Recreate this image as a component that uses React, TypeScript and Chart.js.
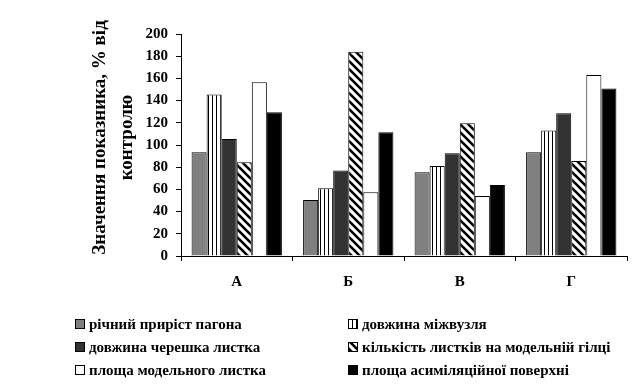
import React, { useEffect, useRef } from "react";
import { Chart, registerables } from "chart.js";

Chart.register(...registerables);

const categories = ["А", "Б", "В", "Г"];
const seriesNames = [
  "річний приріст пагона",
  "довжина міжвузля",
  "довжина черешка листка",
  "кількість листків на модельній гілці",
  "площа модельного листка",
  "площа асиміляційної поверхні",
];
const annualGrowth = [93.5, 50.5, 75.5, 93.5];
const internodeLength = [145.5, 61, 81, 113];
const petioleLength = [105.5, 77, 92.5, 128.5];
const leafCount = [84.5, 184, 119.5, 85.5];
const leafArea = [156.5, 57.5, 54, 163];
const assimilationArea = [129.5, 111.5, 64, 151];
const yTicks = [0, 20, 40, 60, 80, 100, 120, 140, 160, 180, 200];
const titleLines = ["Значення показника, % від", "контролю"];

const FONT = "'Liberation Serif', 'Times New Roman', serif";

function makeStripes(): CanvasPattern | string {
  const c = document.createElement("canvas");
  c.width = 4;
  c.height = 4;
  const g = c.getContext("2d")!;
  g.fillStyle = "#fff";
  g.fillRect(0, 0, 4, 4);
  g.fillStyle = "#000";
  g.fillRect(0, 0, 1, 4);
  return g.createPattern(c, "repeat") || "#fff";
}

function makeHatch(): CanvasPattern | string {
  const c = document.createElement("canvas");
  c.width = 8;
  c.height = 8;
  const g = c.getContext("2d")!;
  g.fillStyle = "#fff";
  g.fillRect(0, 0, 8, 8);
  g.strokeStyle = "#000";
  g.lineWidth = 2.6;
  for (const off of [-8, 0, 8]) {
    g.beginPath();
    g.moveTo(off - 2, -2);
    g.lineTo(off + 10, 10);
    g.stroke();
  }
  return g.createPattern(c, "repeat") || "#fff";
}

export default function App() {
  const ref = useRef<HTMLCanvasElement>(null);

  useEffect(() => {
    if (!ref.current) return;
    const stripes = makeStripes();
    const hatch = makeHatch();
    const fills = ["#808080", stripes, "#333333", hatch, "#ffffff", "#000000"];
    const values = [annualGrowth, internodeLength, petioleLength, leafCount, leafArea, assimilationArea];

    const extras = {
      id: "extras",
      afterDraw(chart: any) {
        const ctx = chart.ctx as CanvasRenderingContext2D;
        ctx.save();
        ctx.fillStyle = "#000";
        ctx.font = `bold 19px ${FONT}`;
        ctx.textAlign = "center";
        ctx.textBaseline = "middle";
        const cy = 137.5;
        const xs = [100, 127];
        titleLines.forEach((t, i) => {
          ctx.save();
          ctx.translate(xs[i], cy);
          ctx.rotate(-Math.PI / 2);
          ctx.fillText(t, 0, 0);
          ctx.restore();
        });
        const colX = [75, 348];
        const rowY = [324, 347, 370];
        ctx.font = `bold 15px ${FONT}`;
        ctx.textAlign = "left";
        chart.data.datasets.forEach((ds: any, i: number) => {
          const col = i % 2;
          const row = Math.floor(i / 2);
          const x = colX[col];
          const y = rowY[row];
          ctx.fillStyle = ds.backgroundColor;
          ctx.fillRect(x, y - 5, 10, 10);
          ctx.strokeStyle = "#000";
          ctx.lineWidth = 1;
          ctx.strokeRect(x + 0.5, y - 4.5, 9, 9);
          ctx.fillStyle = "#000";
          ctx.fillText(ds.label, x + 14, y + 1);
        });
        ctx.restore();
      },
    };

    const chart = new Chart(ref.current, {
      type: "bar",
      data: {
        labels: categories,
        datasets: seriesNames.map((name, i) => ({
          label: name,
          data: values[i],
          backgroundColor: fills[i] as any,
          borderColor: "#000",
          borderWidth: 1,
          borderSkipped: "bottom",
          categoryPercentage: 0.81,
          barPercentage: 1,
        })),
      },
      options: {
        animation: false,
        responsive: false,
        maintainAspectRatio: false,
        layout: { padding: { left: 0, right: 5, top: 34, bottom: 0 } },
        plugins: {
          legend: { display: false },
          tooltip: { enabled: false },
          title: { display: false },
        },
        scales: {
          x: {
            offset: true,
            grid: {
              offset: true,
              drawOnChartArea: false,
              drawTicks: true,
              tickLength: 5,
              color: "#000",
            },
            border: { color: "#000", width: 1 },
            ticks: {
              color: "#000",
              font: { family: FONT, size: 15, weight: "bold" },
              padding: 12,
            },
            afterFit(scale: any) {
              scale.height = 128;
            },
          },
          y: {
            min: 0,
            max: 200,
            afterBuildTicks(scale: any) {
              scale.ticks = yTicks.map((v) => ({ value: v }));
            },
            grid: {
              drawOnChartArea: false,
              drawTicks: true,
              tickLength: 5,
              color: "#000",
            },
            border: { color: "#000", width: 1 },
            ticks: {
              color: "#000",
              font: { family: FONT, size: 15, weight: "bold" },
              padding: 8,
            },
            afterFit(scale: any) {
              scale.width = 181;
            },
          },
        },
      },
      plugins: [extras],
    });
    return () => chart.destroy();
  }, []);

  return (
    <div style={{ position: "absolute", left: 0, top: 0, width: 632, height: 384, background: "#fff" }}>
      <canvas ref={ref} width={632} height={384} style={{ width: 632, height: 384 }} />
    </div>
  );
}
